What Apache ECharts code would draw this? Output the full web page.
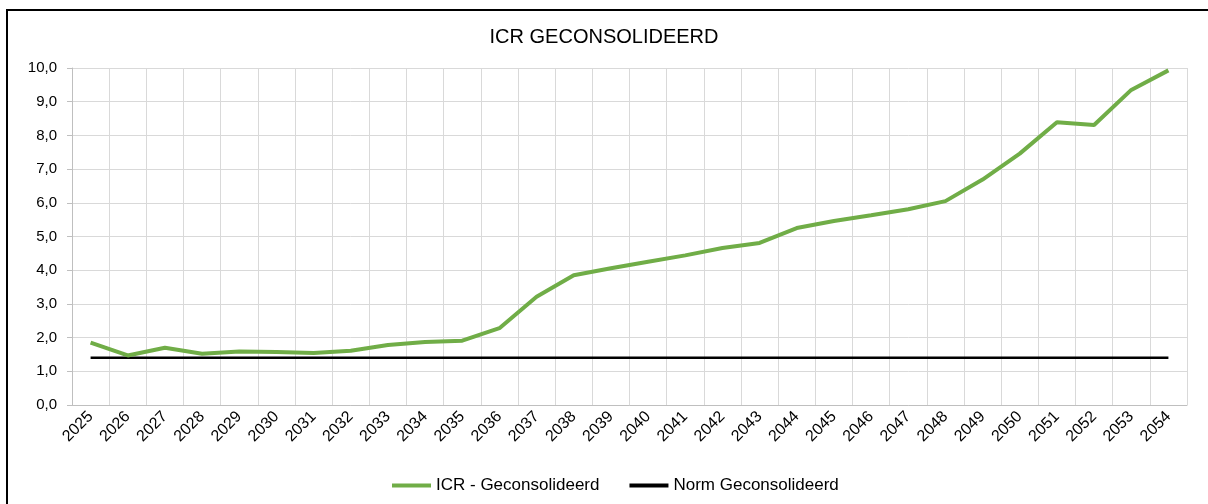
<!DOCTYPE html>
<html>
<head>
<meta charset="utf-8">
<title>ICR Geconsolideerd</title>
<script src="https://cdn.jsdelivr.net/npm/echarts@6/dist/echarts.min.js"></script>
<style>
  html, body { margin: 0; padding: 0; background: #fff; }
  #chart { width: 1208px; height: 504px; }
</style>
</head>
<body>
<div id="chart"></div>
<script>
// data
var years = ['2025', '2026', '2027', '2028', '2029', '2030', '2031', '2032', '2033', '2034',
             '2035', '2036', '2037', '2038', '2039', '2040', '2041', '2042', '2043', '2044',
             '2045', '2046', '2047', '2048', '2049', '2050', '2051', '2052', '2053', '2054'];
var icrValues = [1.85, 1.47, 1.70, 1.52, 1.59, 1.57, 1.54, 1.61, 1.78, 1.87,
                 1.91, 2.28, 3.21, 3.85, 4.06, 4.25, 4.44, 4.66, 4.81, 5.25,
                 5.46, 5.63, 5.81, 6.05, 6.69, 7.46, 8.39, 8.31, 9.35, 9.93];
var normValues = [1.4, 1.4, 1.4, 1.4, 1.4, 1.4, 1.4, 1.4, 1.4, 1.4,
                  1.4, 1.4, 1.4, 1.4, 1.4, 1.4, 1.4, 1.4, 1.4, 1.4,
                  1.4, 1.4, 1.4, 1.4, 1.4, 1.4, 1.4, 1.4, 1.4, 1.4];
var seriesNames = ['ICR - Geconsolideerd', 'Norm Geconsolideerd'];

var chart = echarts.init(document.getElementById('chart'));

var option = {
    animation: false,
    textStyle: { fontFamily: '"Liberation Sans", Arial, sans-serif' },
    title: {
        text: 'ICR GECONSOLIDEERD',
        left: 'center',
        top: 22,
        textStyle: { fontSize: 20, fontWeight: 'normal', color: '#000' }
    },
    graphic: [{
        type: 'rect',
        shape: { x: 7, y: 10, width: 1300, height: 600 },
        style: { fill: 'none', stroke: '#000', lineWidth: 2 },
        silent: true
    }],
    legend: {
        top: 472,
        left: 387,
        itemWidth: 39,
        itemHeight: 4,
        itemGap: 30,
        textStyle: { fontSize: 17, color: '#000' },
        data: [
            { name: seriesNames[0], icon: 'rect', itemStyle: { color: '#70AD47' } },
            { name: seriesNames[1], icon: 'rect', itemStyle: { color: '#000' } }
        ]
    },
    grid: { left: 72, right: 21, top: 68, bottom: 99, containLabel: false },
    xAxis: {
        type: 'category',
        data: years,
        boundaryGap: true,
        axisLine: { lineStyle: { color: '#bfbfbf', width: 1 } },
        axisTick: { show: false },
        axisLabel: { rotate: 45, fontSize: 16, color: '#000', margin: 9, interval: 0 },
        splitLine: { show: true, lineStyle: { color: '#d9d9d9', width: 1 } }
    },
    yAxis: {
        type: 'value',
        min: 0,
        max: 10,
        interval: 1,
        axisLine: { show: true, lineStyle: { color: '#bfbfbf', width: 1 } },
        axisTick: { show: true, length: 5, lineStyle: { color: '#bfbfbf' } },
        axisLabel: {
            fontSize: 15,
            color: '#000',
            margin: 15,
            formatter: function (v) { return v.toFixed(1).replace('.', ','); }
        },
        splitLine: { lineStyle: { color: '#d9d9d9', width: 1 } }
    },
    series: [
        {
            name: seriesNames[0],
            type: 'line',
            data: icrValues,
            symbol: 'none',
            lineStyle: { color: '#70AD47', width: 4 },
            itemStyle: { color: '#70AD47' },
            z: 3
        },
        {
            name: seriesNames[1],
            type: 'line',
            data: normValues,
            symbol: 'none',
            lineStyle: { color: '#000', width: 2.5 },
            itemStyle: { color: '#000' },
            z: 2
        }
    ]
};

chart.setOption(option);
</script>
</body>
</html>
